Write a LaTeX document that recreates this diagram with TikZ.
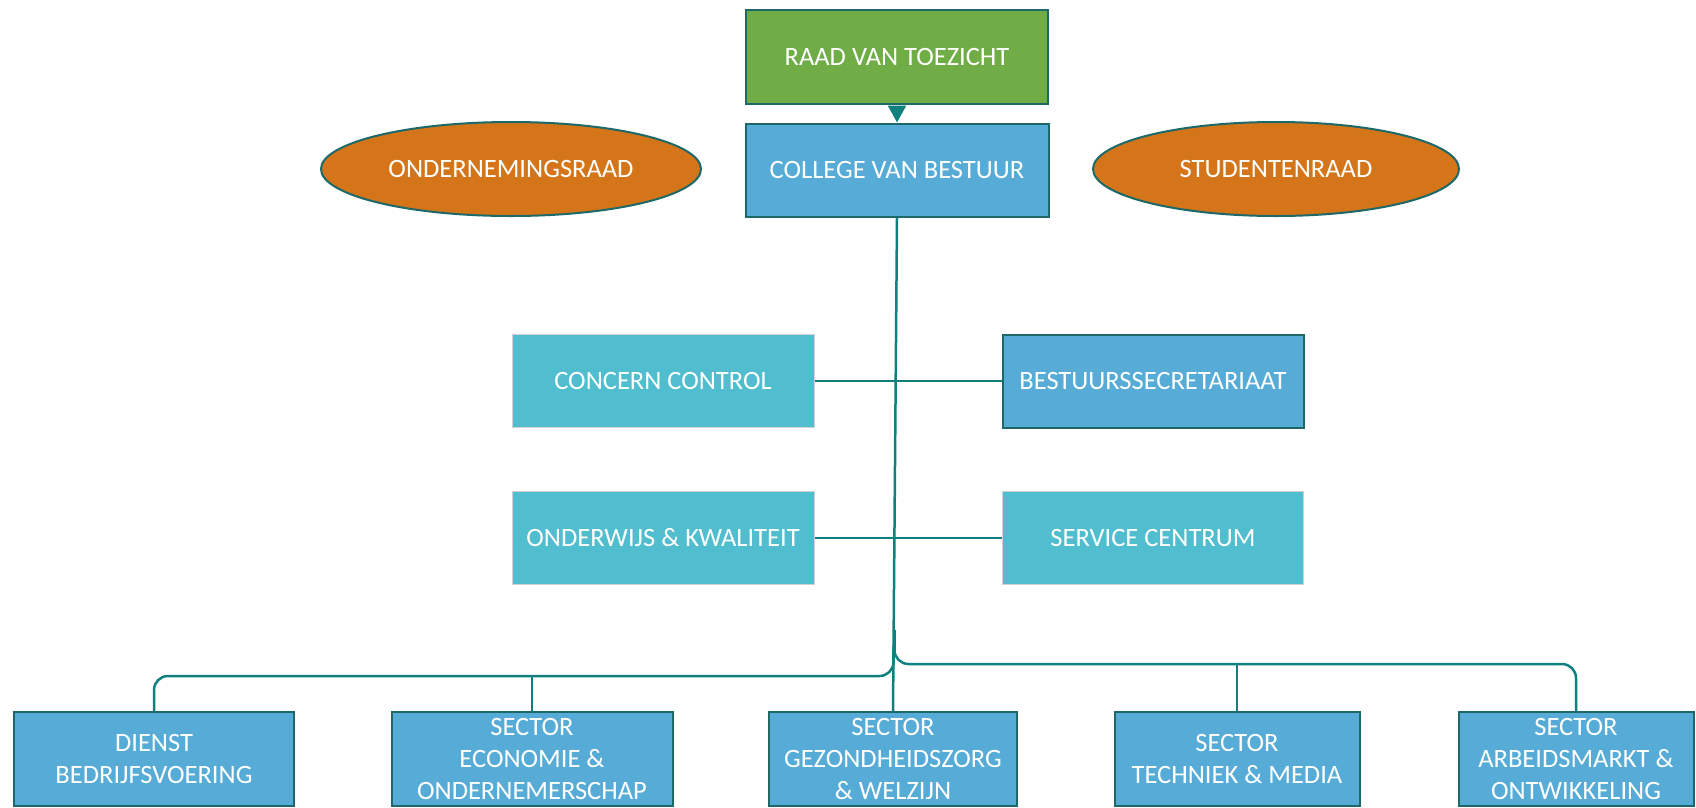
\documentclass[tikz,border=0pt]{standalone}
\usepackage{fontspec}
\setmainfont{Carlito}
\usetikzlibrary{shapes.geometric,arrows.meta,calc}
\definecolor{cgreen}{HTML}{70AD47}
\definecolor{cblue}{HTML}{56ACD6}
\definecolor{ccyan}{HTML}{50BECF}
\definecolor{corange}{HTML}{D47519}
\definecolor{cborder}{HTML}{1D6868}
\definecolor{cline}{HTML}{0F807D}
\tikzset{
  boxbase/.style={rectangle, text=white, font=\fontsize{26.5}{32}\selectfont, align=center, inner sep=0pt},
  darkbox/.style={boxbase, draw=cborder, line width=2pt},
  lightbox/.style={boxbase, fill=ccyan, draw=black!18, line width=1pt},
  oval/.style={ellipse, fill=corange, draw=cborder, line width=2pt, text=white, font=\fontsize{26.5}{32}\selectfont, inner sep=0pt},
  conn/.style={draw=cline, line width=2.5pt},
}
\begin{document}
\begin{tikzpicture}[x=1pt,y=1pt]
\useasboundingbox (0,0) rectangle (1696,-807);
% top
\node[darkbox, fill=cgreen, minimum width=302pt, minimum height=94pt] (raad) at (897,-57) {RAAD VAN TOEZICHT};
\node[darkbox, fill=cblue, minimum width=303pt, minimum height=93pt] (college) at (897,-170) {COLLEGE VAN BESTUUR};
\node[oval, minimum width=380pt, minimum height=94pt] (or) at (511,-169) {ONDERNEMINGSRAAD};
\node[oval, minimum width=366pt, minimum height=94pt] (sr) at (1276,-169) {STUDENTENRAAD};
% middle
\node[lightbox, minimum width=302pt, minimum height=93pt] (cc) at (663,-381) {CONCERN CONTROL};
\node[darkbox, fill=cblue, minimum width=301pt, minimum height=93pt] (bs) at (1153,-381) {BESTUURSSECRETARIAAT};
\node[lightbox, minimum width=302pt, minimum height=93pt] (ow) at (663,-538) {ONDERWIJS \& KWALITEIT};
\node[lightbox, minimum width=301pt, minimum height=93pt] (sc) at (1153,-538) {SERVICE CENTRUM};
% bottom
\node[darkbox, fill=cblue, minimum width=280pt, minimum height=94pt] (dienst) at (154,-759) {DIENST\\BEDRIJFSVOERING};
\node[darkbox, fill=cblue, minimum width=281pt, minimum height=94pt] (eco) at (532,-759) {SECTOR\\ECONOMIE \&\\ONDERNEMERSCHAP};
\node[darkbox, fill=cblue, minimum width=248pt, minimum height=94pt] (gez) at (893,-759) {SECTOR\\GEZONDHEIDSZORG\\\& WELZIJN};
\node[darkbox, fill=cblue, minimum width=245pt, minimum height=94pt] (tech) at (1237,-759) {SECTOR\\TECHNIEK \& MEDIA};
\node[darkbox, fill=cblue, minimum width=235pt, minimum height=94pt] (arb) at (1576,-759) {SECTOR\\ARBEIDSMARKT \&\\ONTWIKKELING};
% connectors
\draw[conn, -{Triangle[width=18pt,length=17pt]}, shorten <=1pt] (raad.south) -- (college.north);
\draw[conn] (college.south) -- (gez.north);
\draw[conn] (cc.east) -- (bs.west);
\draw[conn] (ow.east) -- (sc.west);
\coordinate (lstart) at (893.5,-645);
\coordinate (rstart) at (894.5,-630);
\draw[conn, rounded corners=14pt] (lstart) |- ($(dienst.north)+(0,35)$) -- (dienst.north);
\draw[conn] (eco.north) -- ++(0,35);
\draw[conn, rounded corners=14pt] (rstart) |- ($(arb.north)+(0,47)$) -- (arb.north);
\draw[conn] (tech.north) -- ++(0,47);
\end{tikzpicture}
\end{document}
